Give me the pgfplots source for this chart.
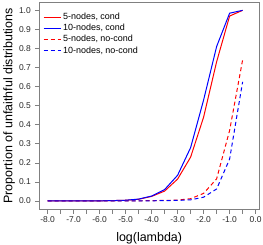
\documentclass[border=0pt]{standalone}
\usepackage{pgfplots}
\pgfplotsset{compat=1.18}
\usepackage{fontspec}
\setmainfont{Liberation Sans}
\definecolor{boxgray}{RGB}{128,128,128}
\definecolor{txt}{RGB}{40,40,40}
\begin{document}
\begin{tikzpicture}
\begin{axis}[
  scale only axis, width=219.7bp, height=206.3bp,
  xmin=-8.32, xmax=0.13, ymin=-0.042, ymax=1.04,
  axis line style={boxgray, line width=0.6pt},
  xtick={-8,-7,...,0}, minor xtick={-7.5,-6.5,...,-0.5},
  ytick={0,0.1,...,1.0},
  tick align=outside, tick pos=left,
  major tick length=4.5bp, minor tick length=4.5bp,
  every tick/.style={boxgray, line width=0.6pt},
  /pgf/number format/assume math mode=true,
  /pgf/number format/.cd, fixed, fixed zerofill, precision=1, /pgfplots/.cd,
  ticklabel style={font=\fontsize{8.5}{9}\selectfont, text=txt},
  yticklabel style={xshift=-0.5bp},
  label style={font=\fontsize{12.5}{14}\selectfont, text=black},
  xlabel={log(lambda)},
  ylabel={Proportion of unfaithful distributions},
  xlabel style={at={(axis description cs:0.5,-0.14)}, anchor=center},
  ylabel style={at={(axis description cs:-0.137,0.5)}, anchor=center},
  legend style={draw=none, fill=none, at={(0.012,0.965)}, anchor=north west,
    font=\fontsize{9}{10}\selectfont, row sep=-0.8bp, inner sep=1bp},
  legend cell align=left,
  legend image code/.code={\draw[#1] (0bp,0bp) -- (17bp,0bp);},
  clip=false,
]
\addplot[red, line width=1pt] coordinates {
(-8,0) (-7.5,0) (-7,0) (-6.5,0.001) (-6,0.001) (-5.5,0.002) (-5,0.004) (-4.5,0.009)
(-4,0.024) (-3.5,0.052) (-3,0.115) (-2.5,0.23) (-2,0.44) (-1.5,0.73) (-1,0.97) (-0.5,1.0)};
\addlegendentry{5-nodes, cond}
\addplot[blue, line width=1pt] coordinates {
(-8,0) (-7.5,0) (-7,0) (-6.5,0.001) (-6,0.001) (-5.5,0.002) (-5,0.004) (-4.5,0.01)
(-4,0.026) (-3.5,0.06) (-3,0.135) (-2.5,0.28) (-2,0.53) (-1.5,0.81) (-1,0.985) (-0.5,1.0)};
\addlegendentry{10-nodes, cond}
\addplot[red, line width=1pt, dash pattern=on 4bp off 3bp] coordinates {
(-8,0) (-7.5,0) (-7,0) (-6.5,0) (-6,0) (-5.5,0) (-5,0.001) (-4.5,0.001)
(-4,0.002) (-3.5,0.003) (-3,0.005) (-2.5,0.012) (-2,0.04) (-1.5,0.116) (-1,0.37) (-0.5,0.74)};
\addlegendentry{5-nodes, no-cond}
\addplot[blue, line width=1pt, dash pattern=on 4bp off 3bp] coordinates {
(-8,0) (-7.5,0) (-7,0) (-6.5,0) (-6,0) (-5.5,0) (-5,0.001) (-4.5,0.001)
(-4,0.001) (-3.5,0.002) (-3,0.003) (-2.5,0.006) (-2,0.02) (-1.5,0.063) (-1,0.22) (-0.5,0.625)};
\addlegendentry{10-nodes, no-cond}
\end{axis}
\pgfresetboundingbox
\path (-39.3bp,-36bp) rectangle (223.7bp,209bp);
\end{tikzpicture}
\end{document}
